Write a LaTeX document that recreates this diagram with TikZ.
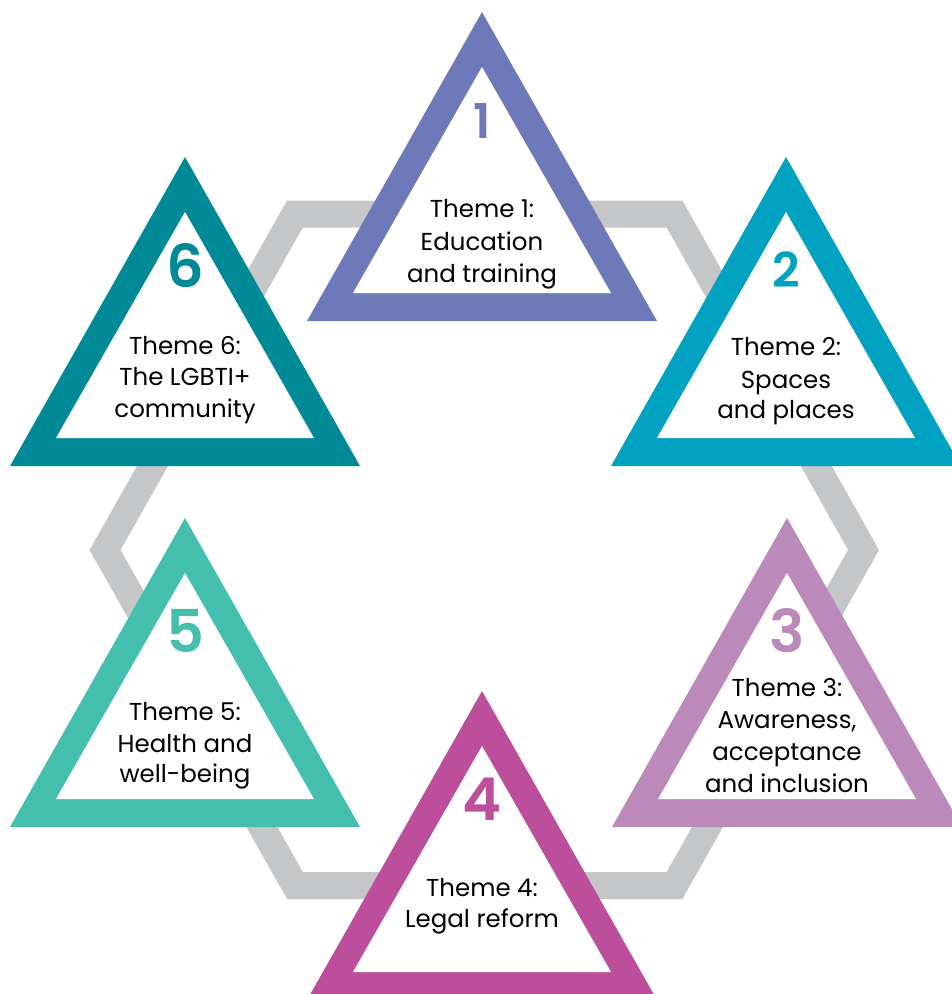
\documentclass[tikz,border=0pt]{standalone}
\usepackage{fontspec}
\setmainfont{Poppins}
\newfontfamily\numfont{Poppins SemiBold}
\usetikzlibrary{calc}
\definecolor{cone}{HTML}{6E79B9}
\definecolor{ctwo}{HTML}{00A1C1}
\definecolor{cthree}{HTML}{BB89BA}
\definecolor{cfour}{HTML}{BD4E9B}
\definecolor{cfive}{HTML}{44BFAD}
\definecolor{csix}{HTML}{008A97}
\definecolor{ringgray}{HTML}{C5C6C8}
\tikzset{
  ringline/.style={draw=ringgray, line width=27pt, line join=miter},
  themetext/.style={anchor=base, inner sep=0pt, font=\fontsize{24.5}{30}\selectfont, text=black},
  numsmall/.style={anchor=base, inner sep=0pt, font=\fontsize{48}{50}\selectfont\numfont},
  numbig/.style={anchor=base, inner sep=0pt, font=\fontsize{59}{60}\selectfont\numfont},
}
\newcommand\themetri[2]{%
  \fill[#2] (#1) -- ++(-175,309) -- ++(350,0) -- cycle;
  \fill[white] ($(#1)+(0,55)$) -- ++(-129,226) -- ++(258,0) -- cycle;
}
\begin{document}
\begin{tikzpicture}[x=1pt,y=-1pt]
\useasboundingbox (0,0) rectangle (952,994);
\clip (0,0) rectangle (952,994);
% hexagonal ring
\draw[ringline] (295,214) -- (674.5,214) -- (863.5,550) -- (674.5,885.5) -- (295,885.5) -- (105,550) -- cycle;
% apexes
\coordinate (a1) at (482,12);
\coordinate (a2) at (786,157);
\coordinate (a3) at (787,518);
\coordinate (a4) at (482,691);
\coordinate (a5) at (185,518);
\coordinate (a6) at (185,157);
\themetri{a1}{cone}
\themetri{a2}{ctwo}
\themetri{a3}{cthree}
\themetri{a4}{cfour}
\themetri{a5}{cfive}
\themetri{a6}{csix}
% numbers
\node[numsmall, text=cone] (n1) at (482,138) {1};
\node[numsmall, text=ctwo] (n2) at (786,287) {2};
\node[numbig, text=cthree] (n3) at (787,652) {3};
\node[numbig, text=cfour] (n4) at (482,820) {4};
\node[numbig, text=cfive] (n5) at (185,652) {5};
\node[numbig, text=csix] (n6) at (185,287) {6};
% texts
\node[themetext] (t1a) at (482,217) {Theme 1:};
\node[themetext] (t1b) at (482,250) {Education};
\node[themetext] (t1c) at (482,282) {and training};
\node[themetext] (t2a) at (786,355) {Theme 2:};
\node[themetext] (t2b) at (786,388) {Spaces};
\node[themetext] (t2c) at (786,418) {and places};
\node[themetext] (t3a) at (787,696) {Theme 3:};
\node[themetext] (t3b) at (787,728) {Awareness,};
\node[themetext] (t3c) at (787,760) {acceptance};
\node[themetext] (t3d) at (787,792) {and inclusion};
\node[themetext] (t4a) at (482,896) {Theme 4:};
\node[themetext] (t4b) at (482,927) {Legal reform};
\node[themetext] (t5a) at (185,720) {Theme 5:};
\node[themetext] (t5b) at (185,752) {Health and};
\node[themetext] (t5c) at (185,782) {well-being};
\node[themetext] (t6a) at (185,354) {Theme 6:};
\node[themetext] (t6b) at (185,385) {The LGBTI+};
\node[themetext] (t6c) at (185,417) {community};
\end{tikzpicture}
\end{document}
